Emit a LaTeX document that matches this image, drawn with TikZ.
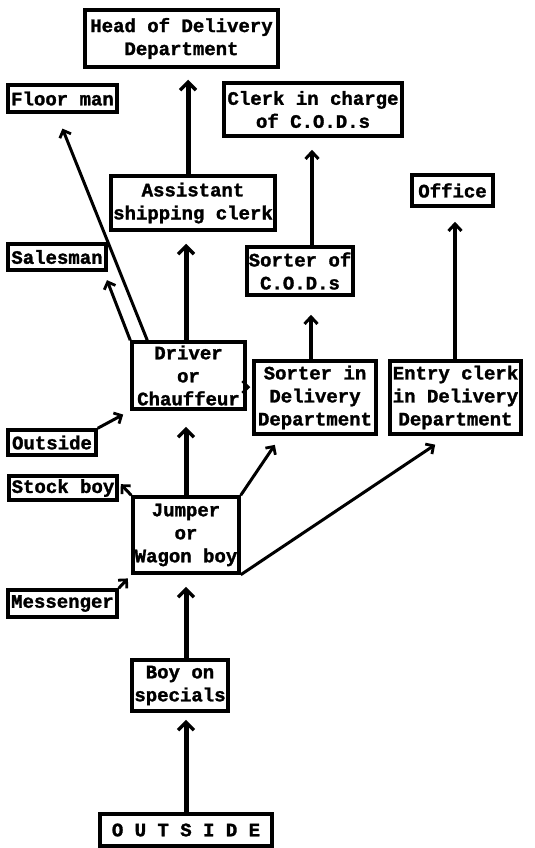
\documentclass[tikz,border=0pt]{standalone}
\usepackage{fontspec}
\newfontfamily\twfont{Liberation Mono}[BoldFeatures={FakeBold=1.5}]
\usetikzlibrary{arrows.meta}
\begin{document}
\begin{tikzpicture}[x=1pt,y=-1pt,
  box/.style={draw, line width=3.5pt, inner sep=0pt, align=center,
    font=\twfont\bfseries\fontsize{19}{23}\selectfont},
  main/.style={line width=5pt, -{Straight Barb[length=8pt,width=16pt,line width=3.5pt]}},
  mid/.style={line width=3.5pt, -{Straight Barb[length=7pt,width=13pt,line width=3pt]}},
  thin/.style={line width=3pt, -{Straight Barb[length=6pt,width=12pt,line width=2.8pt]}}
]
\useasboundingbox (0,0) rectangle (535,848);
\node[box, minimum width=193pt, minimum height=57pt] (head) at (181.5,38.5) {Head of Delivery\\Department};
\node[box, minimum width=109pt, minimum height=27pt] (floor) at (62.5,98.5) {Floor man};
\node[box, minimum width=178pt, minimum height=53pt] (clerk) at (313,109.5) {Clerk in charge\\of C.O.D.s};
\node[box, minimum width=164pt, minimum height=54pt] (asst) at (193,203) {Assistant\\shipping clerk};
\node[box, minimum width=81pt, minimum height=31pt] (office) at (452.5,190.5) {Office};
\node[box, minimum width=98pt, minimum height=26pt] (sales) at (57,257) {Salesman};
\node[box, minimum width=106pt, minimum height=48pt] (sortcod) at (300,271) {Sorter of\\C.O.D.s};
\node[box, minimum width=113pt, minimum height=67pt] (driver) at (188.5,375.5) {Driver\\or\\Chauffeur};
\node[box, minimum width=122pt, minimum height=73pt] (sortdel) at (315,397.5) {Sorter in\\Delivery\\Department};
\node[box, minimum width=131pt, minimum height=73pt] (entry) at (455.5,397.5) {Entry clerk\\in Delivery\\Department};
\node[box, minimum width=88pt, minimum height=25pt] (outsm) at (52,442.5) {Outside};
\node[box, minimum width=108pt, minimum height=24pt] (stock) at (63,488) {Stock boy};
\node[box, minimum width=106pt, minimum height=76pt] (jumper) at (186,535) {Jumper\\or\\Wagon boy};
\node[box, minimum width=109pt, minimum height=27pt] (mess) at (62.5,603.5) {Messenger};
\node[box, minimum width=96pt, minimum height=51pt] (spec) at (180,685.5) {Boy on\\specials};
\node[box, minimum width=172pt, minimum height=32pt] (outside) at (186,830) {O U T S I D E};

% main vertical chain
\draw[main, shorten >=11pt] ([xshift=-5pt]asst.north) -- ([xshift=6.5pt]head.south);
\draw[main, shorten >=12pt] ([xshift=-2.5pt]driver.north) -- ([xshift=-7pt]asst.south);
\draw[main, shorten >=16pt] (jumper.north) -- ([xshift=-2.5pt]driver.south);
\draw[main, shorten >=12pt] ([xshift=6pt]spec.north) -- (jumper.south);
\draw[main, shorten >=7pt] (outside.north) -- ([xshift=6pt]spec.south);

% right columns
\draw[mid, shorten >=12pt] ([xshift=12pt]sortcod.north) -- ([xshift=-1pt]clerk.south);
\draw[mid, shorten >=18pt] ([xshift=-4pt]sortdel.north) -- ([xshift=11pt]sortcod.south);
\draw[mid, shorten >=14pt] ([xshift=-0.5pt]entry.north) -- ([xshift=2.5pt]office.south);

% diagonals from driver
\draw[thin, shorten >=16pt] ([xshift=17pt]driver.north west) -- ([xshift=-6pt]floor.south);
\draw[thin, shorten >=9pt] (driver.north west) -- ([xshift=-4pt]sales.south east);
\draw[thin, shorten >=2pt] ([yshift=-11.5pt]driver.east) -- ([yshift=10.5pt]sortdel.west);
\draw[thin, shorten >=8pt] (outsm.north east) -- (driver.south west);

% diagonals from jumper
\draw[thin, shorten >=3pt] (jumper.north west) -- ([yshift=6pt]stock.east);
\draw[thin, shorten >=11pt] (jumper.north east) -- ([xshift=-34pt]sortdel.south);
\draw[thin, shorten >=16pt] (jumper.south east) -- ([xshift=-7pt]entry.south);
\draw[thin, shorten >=5pt] (mess.north east) -- (jumper.south west);
\end{tikzpicture}
\end{document}
